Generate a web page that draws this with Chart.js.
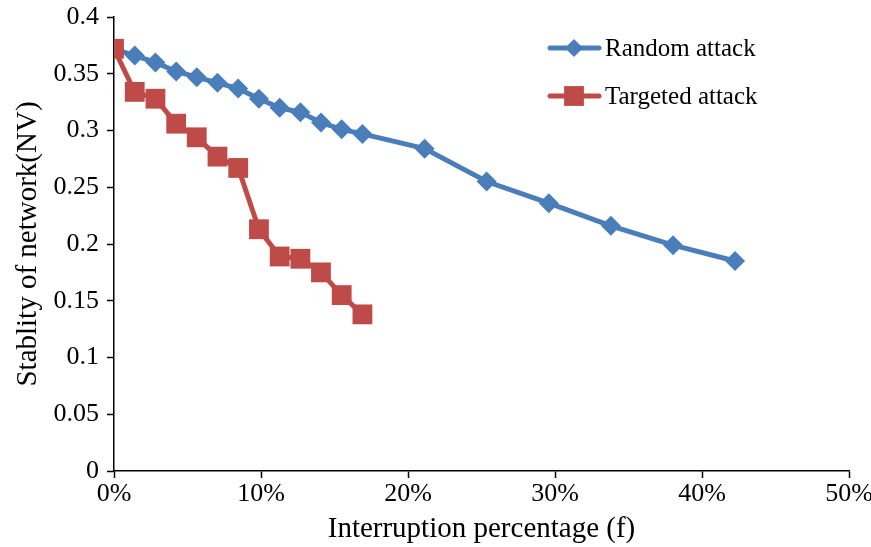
<!DOCTYPE html>
<html>
<head>
<meta charset="utf-8">
<script src="https://cdn.jsdelivr.net/npm/chart.js@4/dist/chart.umd.min.js"></script>
<style>
  body { margin: 0; background: #fff; }
  #wrap { width: 871px; height: 547px; }
</style>
</head>
<body>
<div id="wrap"><canvas id="myChart" width="871" height="547"></canvas></div>
<script>
// interruption percentage (%)
const xRandom = [0, 1.41, 2.82, 4.23, 5.63, 7.04, 8.45, 9.86, 11.27, 12.68, 14.08, 15.49, 16.9, 21.13, 25.35, 29.58, 33.8, 38.03, 42.25];
const yRandom = [0.372, 0.366, 0.360, 0.352, 0.347, 0.342, 0.337, 0.328, 0.320, 0.316, 0.307, 0.301, 0.297, 0.284, 0.255, 0.236, 0.216, 0.199, 0.185];
const xTargeted = [0, 1.41, 2.82, 4.23, 5.63, 7.04, 8.45, 9.86, 11.27, 12.68, 14.08, 15.49, 16.9];
const yTargeted = [0.372, 0.334, 0.328, 0.306, 0.294, 0.277, 0.267, 0.213, 0.189, 0.187, 0.175, 0.155, 0.138];
const seriesNames = ['Random attack', 'Targeted attack'];
const xTicks = [0, 10, 20, 30, 40, 50];

const BLUE = '#4A7EBB';
const RED = '#BE4B48';
const FONT = 'Liberation Serif';

function points(xs, ys) {
    return xs.map((x, i) => ({x: x, y: ys[i]}));
}

// legend drawn inside the plot, line + marker like the original
const lineLegend = {
    id: 'lineLegend',
    afterDraw(chart) {
        const ctx = chart.ctx;
        const items = [
            {label: seriesNames[0], color: BLUE, style: 'rectRot', r: 9, y: 48},
            {label: seriesNames[1], color: RED, style: 'rect', r: 14, y: 96}
        ];
        ctx.save();
        items.forEach(it => {
            ctx.strokeStyle = it.color;
            ctx.lineWidth = 5;
            ctx.lineCap = 'round';
            ctx.beginPath();
            ctx.moveTo(550, it.y);
            ctx.lineTo(599, it.y);
            ctx.stroke();
            ctx.fillStyle = it.color;
            Chart.helpers.drawPoint(ctx, {pointStyle: it.style, radius: it.r, borderWidth: 0}, 574, it.y);
            ctx.fillStyle = '#000';
            ctx.font = '25px "' + FONT + '"';
            ctx.textBaseline = 'middle';
            ctx.fillText(it.label, 605, it.y + 1);
        });
        ctx.restore();
    }
};

const ctx = document.getElementById('myChart').getContext('2d');
const stabilityChart = new Chart(ctx, {
    type: 'line',
    data: {
        datasets: [{
            label: seriesNames[0],
            data: points(xRandom, yRandom),
            borderColor: BLUE,
            backgroundColor: BLUE,
            borderWidth: 5,
            pointStyle: 'rectRot',
            pointRadius: 10,
            pointBorderWidth: 0,
            order: 2
        }, {
            label: seriesNames[1],
            data: points(xTargeted, yTargeted),
            borderColor: RED,
            backgroundColor: RED,
            borderWidth: 5,
            pointStyle: 'rect',
            pointRadius: 14,
            pointBorderWidth: 0,
            order: 1
        }]
    },
    options: {
        responsive: false,
        animation: false,
        layout: {padding: {top: 17, right: 22, left: 0, bottom: 0}},
        plugins: {legend: {display: false}, tooltip: {enabled: false}},
        scales: {
            x: {
                type: 'linear',
                min: 0,
                max: 50,
                afterBuildTicks: s => { s.ticks = xTicks.map(v => ({value: v})); },
                afterFit: s => { s.height = 76; s.paddingLeft = 0; s.paddingRight = 0; },
                grid: {drawOnChartArea: false, color: '#000', tickLength: 7, tickWidth: 1.5},
                border: {color: '#000', width: 1.5},
                ticks: {
                    color: '#000',
                    font: {family: FONT, size: 26},
                    padding: 1,
                    maxRotation: 0,
                    callback: v => v + '%'
                },
                title: {
                    display: true,
                    text: 'Interruption percentage (f)',
                    color: '#000',
                    font: {family: FONT, size: 29},
                    padding: {top: 2, bottom: 0}
                }
            },
            y: {
                min: 0,
                max: 0.4,
                afterFit: s => { s.width = 114; s.paddingTop = 0; s.paddingBottom = 0; },
                grid: {drawOnChartArea: false, color: '#000', tickLength: 7, tickWidth: 1.5},
                border: {color: '#000', width: 1.5},
                ticks: {
                    stepSize: 0.05,
                    color: '#000',
                    font: {family: FONT, size: 26},
                    padding: 8,
                    callback: v => String(+v.toFixed(2))
                },
                title: {
                    display: true,
                    text: 'Stablity of network(NV)',
                    color: '#000',
                    font: {family: FONT, size: 29},
                    padding: {top: 11, bottom: 0}
                }
            }
        }
    },
    plugins: [lineLegend]
});
</script>
</body>
</html>
